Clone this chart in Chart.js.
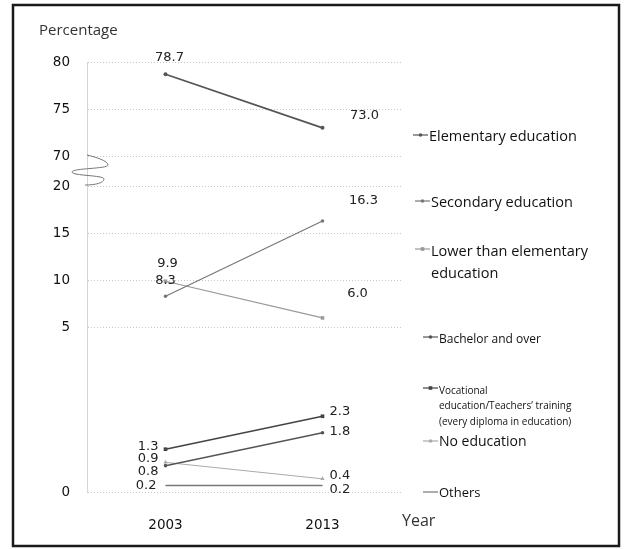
<!DOCTYPE html>
<html>
<head>
<meta charset="utf-8">
<script src="https://cdn.jsdelivr.net/npm/chart.js@4.4.1/dist/chart.umd.min.js"></script>
<style>
  html, body { margin: 0; padding: 0; background: #fff; }
  #wrap { position: relative; width: 624px; height: 549px; }
</style>
</head>
<body>
<div id="wrap"><canvas id="graficoEducacao" width="624" height="549"></canvas></div>
<script>
// dados
const anos = ["2003", "2013"];
const elementar = [78.7, 73.0];
const secundario = [8.3, 16.3];
const abaixoElementar = [9.9, 6.0];
const bacharel = [0.8, 1.8];
const vocacional = [1.3, 2.3];
const semEducacao = [0.9, 0.4];
const outros = [0.2, 0.2];
const ticksY = [0, 5, 10, 15, 20, 70, 75, 80];

// eixo quebrado: 0-5 esticado, 5-20 normal, salto 20->70
function paraVirtual(v) {
  if (v <= 5) return v * 3.5;
  if (v <= 20) return 17.5 + (v - 5);
  return 35.7 + (v - 70);
}
function deVirtual(u) {
  if (u <= 17.5) return u / 3.5;
  if (u <= 32.5) return u - 17.5 + 5;
  return u - 35.7 + 70;
}

class EscalaQuebrada extends Chart.LinearScale {
  determineDataLimits() {
    this.min = 0;
    this.max = paraVirtual(80);
  }
  buildTicks() {
    return ticksY.map((v) => ({ value: v }));
  }
  getPixelForValue(v) {
    if (v === null || v === undefined) return NaN;
    return super.getPixelForValue(paraVirtual(v));
  }
  getValueForPixel(p) {
    return deVirtual(super.getValueForPixel(p));
  }
}
EscalaQuebrada.id = "quebrada";
EscalaQuebrada.defaults = Chart.LinearScale.defaults;
Chart.register(EscalaQuebrada);

const fonteNum = "DejaVu Sans";
const fonteTexto = "Open Sans";

// rotulos de valor e legenda desenhados a mao
const pluginRotulos = {
  id: "rotulos",
  beforeDraw(chart) {
    const ctx = chart.ctx;
    ctx.save();
    ctx.strokeStyle = "#1a1a1a";
    ctx.lineWidth = 2.5;
    ctx.strokeRect(13, 5, 606, 541);
    ctx.restore();
  },
  afterDraw(chart) {
    const ctx = chart.ctx;
    ctx.save();

    // titulo do eixo
    ctx.fillStyle = "#333";
    ctx.font = "15px " + fonteTexto;
    ctx.textBaseline = "middle";
    ctx.textAlign = "left";
    ctx.fillText("Percentage", 39, 31);
    ctx.font = "16px " + fonteTexto;
    ctx.fillText("Year", 402, 521);

    // simbolo de quebra
    ctx.strokeStyle = "#777";
    ctx.lineWidth = 1;
    ctx.beginPath();
    ctx.moveTo(87, 155);
    ctx.bezierCurveTo(96, 157, 108, 161, 108, 165);
    ctx.bezierCurveTo(108, 169, 72, 168, 72, 172);
    ctx.bezierCurveTo(72, 176, 104, 175, 104, 179);
    ctx.bezierCurveTo(104, 183, 95, 185, 85, 185);
    ctx.stroke();

    chart.data.datasets.forEach((ds, di) => {
      const meta = chart.getDatasetMeta(di);
      // valores
      ctx.fillStyle = "#222";
      ctx.font = "13px " + fonteNum;
      ctx.textBaseline = "middle";
      meta.data.forEach((pt, i) => {
        const [dx, dy, al] = ds.posRotulo[i];
        ctx.textAlign = al;
        ctx.fillText(ds.data[i].toFixed(1), pt.x + dx, pt.y + dy);
      });

      // legenda
      const lg = ds.legenda;
      ctx.strokeStyle = ds.borderColor;
      ctx.lineWidth = 1.2;
      ctx.beginPath();
      ctx.moveTo(lg.x, lg.ym);
      ctx.lineTo(lg.x + 15, lg.ym);
      ctx.stroke();
      if (ds.pointStyle !== false) {
        ctx.fillStyle = ds.borderColor;
        const r = 1.8;
        ctx.beginPath();
        if (ds.pointStyle === "rect") ctx.rect(lg.x + 7.5 - r, lg.ym - r, 2 * r, 2 * r);
        else ctx.arc(lg.x + 7.5, lg.ym, r, 0, Math.PI * 2);
        ctx.fill();
      }
      ctx.fillStyle = "#111";
      ctx.textAlign = "left";
      ctx.font = lg.tam + "px " + fonteTexto;
      lg.linhas.forEach((t, k) => {
        ctx.fillText(t, lg.x + 16, lg.y + k * lg.passo);
      });
    });
    ctx.restore();
  },
};

const ctx = document.getElementById("graficoEducacao").getContext("2d");

window.grafico = new Chart(ctx, {
  type: "line",
  data: {
    labels: anos,
    datasets: [
      {
        label: "Elementary education",
        data: elementar,
        borderColor: "#555",
        backgroundColor: "#555",
        borderWidth: 1.8,
        pointRadius: 2,
        pointBorderWidth: 0,
        pointStyle: "circle",
        posRotulo: [[4, -17, "center"], [42, -12, "center"]],
        legenda: { x: 413, ym: 135, y: 137, tam: 14.5, passo: 0, linhas: ["Elementary education"] },
      },
      {
        label: "Secondary education",
        data: secundario,
        borderColor: "#777",
        backgroundColor: "#777",
        borderWidth: 1.2,
        pointRadius: 1.8,
        pointBorderWidth: 0,
        pointStyle: "circle",
        posRotulo: [[0, -16, "center"], [41, -20, "center"]],
        legenda: { x: 415, ym: 201, y: 203, tam: 14.5, passo: 0, linhas: ["Secondary education"] },
      },
      {
        label: "Lower than elementary education",
        data: abaixoElementar,
        borderColor: "#999",
        backgroundColor: "#999",
        borderWidth: 1.2,
        pointRadius: 2.5,
        pointBorderWidth: 0,
        pointStyle: "rect",
        posRotulo: [[2, -18, "center"], [35, -24, "center"]],
        legenda: { x: 415, ym: 249, y: 252, tam: 14.5, passo: 22, linhas: ["Lower than elementary", "education"] },
      },
      {
        label: "Bachelor and over",
        data: bacharel,
        borderColor: "#555",
        backgroundColor: "#555",
        borderWidth: 1.5,
        pointRadius: 1.8,
        pointBorderWidth: 0,
        pointStyle: "circle",
        posRotulo: [[-7, 6, "right"], [7, -1, "left"]],
        legenda: { x: 423, ym: 337, y: 340, tam: 12, passo: 0, linhas: ["Bachelor and over"] },
      },
      {
        label: "Vocational education/Teachers' training (every diploma in education)",
        data: vocacional,
        borderColor: "#444",
        backgroundColor: "#444",
        borderWidth: 1.5,
        pointRadius: 2.6,
        pointBorderWidth: 0,
        pointStyle: "rect",
        posRotulo: [[-7, -3, "right"], [7, -5, "left"]],
        legenda: { x: 423, ym: 388, y: 391, tam: 10, passo: 15.5, linhas: ["Vocational", "education/Teachers\u2019 training", "(every diploma in education)"] },
      },
      {
        label: "No education",
        data: semEducacao,
        borderColor: "#aaa",
        backgroundColor: "#aaa",
        borderWidth: 1,
        pointRadius: 2.5,
        pointBorderWidth: 0,
        pointStyle: "triangle",
        posRotulo: [[-7, -4, "right"], [7, -3, "left"]],
        legenda: { x: 423, ym: 441, y: 442, tam: 14, passo: 0, linhas: ["No education"] },
      },
      {
        label: "Others",
        data: outros,
        borderColor: "#777",
        backgroundColor: "#777",
        borderWidth: 1.5,
        pointRadius: 0,
        pointStyle: false,
        posRotulo: [[-9, 0, "right"], [7, 4, "left"]],
        legenda: { x: 423, ym: 492, y: 493, tam: 13, passo: 0, linhas: ["Others"] },
      },
    ],
  },
  options: {
    responsive: false,
    animation: false,
    layout: { padding: { left: 0, right: 223, top: 62, bottom: 0 } },
    plugins: {
      legend: { display: false },
      title: { display: false },
      tooltip: { enabled: false },
    },
    scales: {
      x: {
        type: "category",
        offset: true,
        grid: { display: false },
        border: { display: false },
        ticks: {
          color: "#111",
          padding: 17,
          font: { family: fonteNum, size: 13.5 },
        },
        afterFit: (s) => { s.height = 57; },
      },
      y: {
        type: "quebrada",
        grid: {
          color: "#c8c8c8",
          drawTicks: false,
        },
        border: { display: true, color: "#d5d5d5", dash: [1, 2] },
        ticks: {
          autoSkip: false,
          color: "#111",
          padding: 17,
          font: { family: fonteNum, size: 13.5 },
          callback: (v) => String(v),
        },
        afterFit: (s) => { s.width = 87; },
      },
    },
  },
  plugins: [pluginRotulos],
});
</script>
</body>
</html>
